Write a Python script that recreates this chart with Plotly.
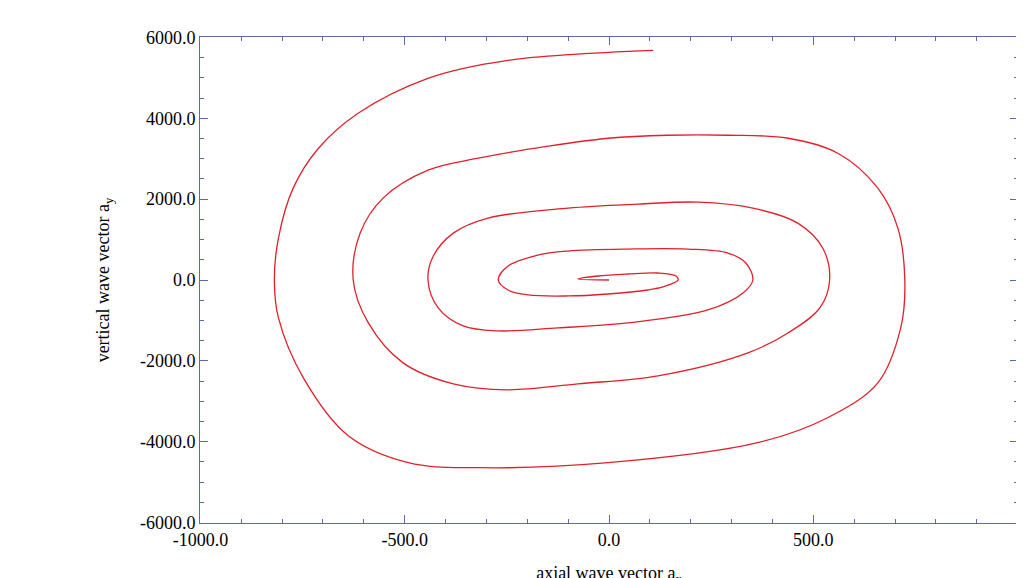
import plotly.graph_objects as go

ax = [0,-76,-27,46,120,164,169,132,95,-2,-100,-198,-247,-271,-247,-174,-100,46,193,291,335,352,328,242,46,-125,-271,-357,-418,-443,-430,-381,-296,-100,71,218,352,462,523,540,516,438,340,120,-76,-247,-381,-504,-589,-626,-609,-553,-443,-320,-149,-2,144,291,438,560,658,707,724,714,658,535,364,-2,-320,-491,-638,-748,-809,-819,-809,-773,-711,-614,-443,-247,108]
ay = [0,25,99,148,173,99,0,-173,-247,-346,-395,-370,-247,0,346,617,716,765,765,667,420,0,-321,-741,-1062,-1185,-1259,-1136,-691,0,593,1160,1531,1778,1877,1926,1778,1407,790,0,-691,-1309,-1802,-2370,-2568,-2716,-2568,-2049,-1062,0,1160,2025,2716,3012,3309,3506,3580,3580,3506,3136,2272,1284,0,-1185,-2543,-3407,-4025,-4519,-4642,-4519,-3852,-2420,-938,0,1037,2272,3259,4123,4988,5432,5679]
xticks = [-1000, -500, 0, 500, 1000]
xlabels = ["-1000.0", "-500.0", "0.0", "500.0", "1000.0"]
yticks = [-6000, -4000, -2000, 0, 2000, 4000, 6000]
ylabels = ["-6000.0", "-4000.0", "-2000.0", "0.0", "2000.0", "4000.0", "6000.0"]

fig = go.Figure(go.Scatter(x=ax, y=ay, mode="lines", line=dict(color="#e0202a", width=1.3, shape="spline", smoothing=1.0)))
axcommon = dict(showline=True, mirror="allticks", linecolor="#5a6aa8", linewidth=1, ticks="inside",
                tickcolor="#5a6aa8", ticklen=8, showgrid=False, zeroline=False, automargin=False,
                tickfont=dict(size=18, color="black"))
fig.update_xaxes(range=[-1001, 1001], tickmode="array", tickvals=xticks, ticktext=xlabels,
                 minor=dict(dtick=100, ticks="inside", ticklen=4, tickcolor="#5a6aa8"),
                 title=dict(text="axial wave vector a<sub>x</sub>", font=dict(size=18, color="black"), standoff=18), **axcommon)
fig.update_yaxes(range=[-6010, 6010], tickmode="array", tickvals=yticks, ticktext=ylabels,
                 minor=dict(dtick=500, ticks="inside", ticklen=4, tickcolor="#5a6aa8"),
                 title=dict(text="vertical wave vector a<sub>y</sub>", font=dict(size=18, color="black"), standoff=25), **axcommon)
fig.update_layout(width=1024, height=578, plot_bgcolor="white", paper_bgcolor="white",
                  font=dict(family="Liberation Serif"), showlegend=False,
                  margin=dict(l=192, r=14, t=29, b=63, autoexpand=False))
fig.write_html("out.html")
